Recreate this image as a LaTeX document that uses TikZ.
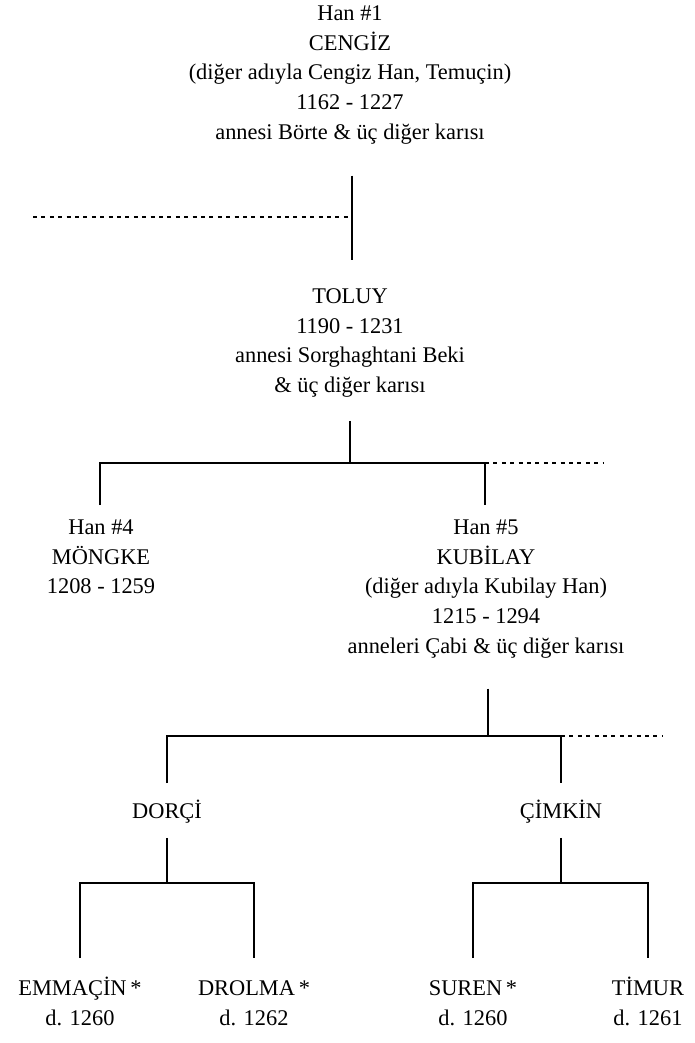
\documentclass[tikz,border=0pt]{standalone}
\usepackage{fontspec}
\setmainfont{Liberation Serif}
\usetikzlibrary{calc}

\newcommand\hitop{\rule{0pt}{12pt}}
\newcommand\lowbot{\rule[-4.5pt]{0pt}{4.5pt}}

\tikzset{
	person/.style={align=center, inner sep=0pt, anchor=north,
		font=\fontsize{11.2}{14.85}\selectfont},
	tie/.style={line width=1.1pt},
	other/.style={line width=0.6pt, dash pattern=on 2pt off 2.2pt}
}

\begin{document}
\begin{tikzpicture}[x=0.5pt,y=-0.5pt]
		%%%%% START %%%%%
		\useasboundingbox (0,0) rectangle (695,1043);
		
		\node[person] (cengiz) at (350, -4) {\hitop Han \#1\\CENGİZ\\(diğer adıyla Cengiz Han, Temuçin)\\1162 - 1227\\annesi Börte \& üç diğer karısı\lowbot};
		\node[person] (toluy) at (350, 279) {\hitop TOLUY\\1190 - 1231\\annesi Sorghaghtani Beki\\\& üç diğer karısı\lowbot};
		\node[person] (mongke) at (101, 510) {\hitop Han \#4\\MÖNGKE\\1208 - 1259\lowbot};
		\node[person] (kubilay) at (486, 510) {\hitop Han \#5\\KUBİLAY\\(diğer adıyla Kubilay Han)\\1215 - 1294\\anneleri Çabi \& üç diğer karısı\lowbot};
		\node[person] (dorci) at (167, 794) {\hitop DORÇİ\lowbot};
		\node[person] (cimkin) at (561, 794) {\hitop ÇİMKİN\lowbot};
		\node[person] (emmacin) at (80, 971) {\hitop EMMAÇİN\,*\\d. 1260\lowbot};
		\node[person] (drolma) at (254, 971) {\hitop DROLMA\,*\\d. 1262\lowbot};
		\node[person] (suren) at (473, 971) {\hitop SUREN\,*\\d. 1260\lowbot};
		\node[person] (timur) at (648, 971) {\hitop TİMUR\\d. 1261\lowbot};
		
		% cengiz -> toluy, other line to the left
		\draw[tie] ($(cengiz.south)+(2,27)$) -- ($(toluy.north)+(2,-19)$) coordinate (cg);
		\coordinate (cgleft) at (33, 217);
		\draw[other] (cgleft) -- (cgleft -| cg);
		
		% toluy -> mongke, kubilay
		\coordinate (tbar) at ($(mongke.north)+(-1,-47)$);
		\draw[tie] ($(toluy.south)+(0,19)$) coordinate (t0) -- (t0 |- tbar);
		\draw[tie] ($(mongke.north)+(-1,-5)$) -- (tbar) -| ($(kubilay.north)+(-1,-5)$);
		\draw[other] (tbar -| kubilay.north) ++(-1,0) -- ++(118,0);
		
		% kubilay -> dorci, cimkin
		\coordinate (kbar) at ($(dorci.north)+(0,-58)$);
		\draw[tie] ($(kubilay.south)+(2,26)$) coordinate (k0) -- (k0 |- kbar);
		\draw[tie] ($(dorci.north)+(0,-11)$) -- (kbar) -| ($(cimkin.north)+(0,-11)$);
		\draw[other] (kbar -| cimkin.north) -- ++(102,0);
		
		% grandchildren
		\coordinate (dbar) at ($(emmacin.north)+(0,-88)$);
		\draw[tie] ($(dorci.south)+(0,10)$) coordinate (d0) -- (d0 |- dbar);
		\draw[tie] ($(emmacin.north)+(0,-13)$) -- (dbar) -| ($(drolma.north)+(0,-13)$);
		\coordinate (cbar) at ($(suren.north)+(0,-88)$);
		\draw[tie] ($(cimkin.south)+(0,10)$) coordinate (c0) -- (c0 |- cbar);
		\draw[tie] ($(suren.north)+(0,-13)$) -- (cbar) -| ($(timur.north)+(0,-13)$);
		%%%%% END %%%%%
	\end{tikzpicture}
\end{document}
